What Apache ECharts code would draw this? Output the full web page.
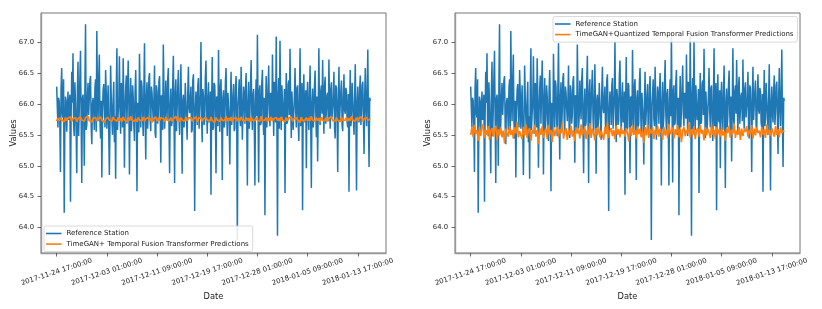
<!DOCTYPE html>
<html>
<head>
<meta charset="utf-8">
<script src="https://cdn.jsdelivr.net/npm/echarts@6/dist/echarts.min.js"></script>
<style>
html,body{margin:0;padding:0;background:#fff;}
#chart{width:822px;height:309px;}
</style>
</head>
<body>
<div id="chart"></div>
<script>
// ---- data ----
const xTickHours = [0, 200, 400, 600, 800, 1000, 1200];
const xTickLabels = ['2017-11-24 17:00:00','2017-12-03 01:00:00','2017-12-11 09:00:00','2017-12-19 17:00:00','2017-12-28 01:00:00','2018-01-05 09:00:00','2018-01-13 17:00:00'];
const yTicks = [64.0, 64.5, 65.0, 65.5, 66.0, 66.5, 67.0];
const refStepHours = 2.5; // hours between reference samples (from 2017-11-24 17:00)
const predStepHours = 5;  // hours between prediction samples

const referenceStation = [
66.28,65.95,65.62,66.10,66.05,65.70,64.90,66.25,66.58,65.85,65.78,66.40,64.24,65.60,66.12,66.05,65.55,65.88,66.20,65.74,
65.71,66.15,64.42,65.78,66.52,66.02,66.82,65.66,65.48,66.35,66.02,65.58,64.88,66.20,66.68,65.48,65.90,66.44,66.86,65.74,
64.72,66.08,66.15,65.90,65.00,66.30,67.29,65.58,65.66,66.12,66.34,65.82,65.80,66.38,66.45,65.64,65.35,66.00,66.10,65.92,
65.58,66.26,66.40,65.55,67.18,66.14,65.72,66.40,66.80,65.72,65.44,66.05,64.81,65.86,66.22,66.32,65.92,65.62,66.55,66.18,
65.60,65.96,66.30,66.28,64.85,65.68,66.62,66.10,65.75,65.50,66.08,66.36,65.38,65.80,64.79,66.22,66.90,65.58,65.85,66.04,
66.77,65.90,65.52,66.34,66.18,65.62,66.74,66.08,64.97,65.84,66.25,66.46,65.68,65.70,66.70,66.12,64.86,65.92,66.42,65.56,
65.78,66.30,66.12,65.66,65.40,66.20,66.55,65.88,64.59,66.02,66.05,65.54,66.81,66.16,65.62,66.38,66.28,65.76,65.48,66.24,
66.98,65.82,65.10,66.10,66.35,65.60,65.88,66.42,66.50,65.74,65.56,66.28,66.18,65.94,65.72,66.06,66.62,65.52,65.45,66.30,
66.20,65.68,65.82,66.36,66.45,65.86,65.05,66.14,66.10,65.58,66.96,66.22,65.60,65.80,66.38,66.00,65.75,66.40,66.58,65.70,
64.88,65.96,66.25,65.64,65.70,66.32,66.78,65.84,64.72,66.18,66.40,65.56,65.92,66.26,66.55,65.78,65.50,66.08,66.64,65.90,
64.87,66.04,66.15,65.62,65.78,66.34,66.32,65.72,65.42,66.20,66.60,65.94,65.85,66.10,66.28,65.54,65.58,66.38,66.48,65.80,
64.27,65.88,66.20,66.02,65.66,66.30,66.42,65.60,65.90,66.16,67.00,65.76,65.38,66.24,66.12,65.66,65.74,66.44,66.70,65.92,
65.52,66.06,66.35,65.70,65.80,66.20,64.53,65.98,66.76,65.58,65.62,66.34,66.30,65.84,64.88,66.12,66.08,65.64,66.87,66.00,
65.55,66.28,66.40,65.78,64.77,66.10,66.22,65.62,65.70,66.36,66.58,65.90,65.48,66.18,66.15,65.74,65.02,66.02,66.52,65.66,
65.88,66.14,66.32,65.56,65.60,66.26,66.45,65.82,63.80,65.96,66.18,66.40,65.76,65.64,66.60,66.08,65.42,65.86,66.28,66.12,
65.68,66.22,66.50,65.74,64.68,66.04,66.36,65.60,65.82,66.30,66.71,65.88,65.58,66.16,66.24,65.70,64.68,66.06,66.40,65.80,
67.12,65.94,64.73,66.20,66.30,65.66,65.70,66.34,66.55,65.78,65.50,66.10,64.20,65.92,66.45,65.62,65.90,66.26,66.62,65.84,
65.64,66.18,66.20,65.76,66.80,66.02,65.48,66.36,66.35,65.70,67.09,65.86,63.87,66.12,66.42,65.60,67.02,66.08,65.58,66.30,
66.28,65.74,65.80,66.24,64.56,65.94,66.50,65.68,65.72,66.32,66.38,65.82,66.89,66.04,65.45,66.20,66.22,65.58,65.86,66.14,
66.58,65.90,65.62,66.26,66.30,65.72,65.40,66.10,66.90,65.64,65.78,66.34,64.28,65.98,66.48,65.76,65.70,66.22,64.96,66.06,
66.36,65.80,65.58,66.18,66.62,65.70,64.64,66.02,66.25,65.62,65.82,66.30,66.54,65.88,65.46,66.12,65.07,65.94,66.90,65.76,
65.66,66.20,66.30,65.84,66.71,66.00,65.52,66.28,66.44,65.68,65.90,66.14,66.18,65.72,66.72,65.96,65.60,66.24,66.35,65.78,
65.78,66.10,66.52,65.62,65.44,66.30,66.26,65.86,64.90,66.04,66.60,65.74,65.72,66.20,66.38,65.66,65.56,66.12,66.48,65.90,
65.84,66.26,66.20,65.70,65.62,66.16,64.58,65.92,66.55,65.64,65.76,66.34,66.32,65.80,65.50,66.08,66.64,65.74,64.60,66.02,
66.28,65.86,65.70,66.22,66.46,65.66,65.88,66.30,66.36,65.78,65.19,66.12,66.58,65.92,65.64,66.18,66.88,65.72,64.98,66.10,
66.05
];

const tftPred = [
65.72,65.77,65.73,65.78,65.74,65.76,65.71,65.78,65.73,65.77,
65.75,65.79,65.72,65.76,65.74,65.78,65.71,65.76,65.73,65.79,
65.74,65.77,65.72,65.78,65.75,65.80,65.73,65.76,65.71,65.77,
65.74,65.78,65.72,65.76,65.73,65.79,65.74,65.77,65.70,65.76,
65.73,65.78,65.74,65.77,65.72,65.79,65.75,65.76,65.72,65.78,
65.73,65.77,65.71,65.79,65.74,65.76,65.72,65.78,65.73,65.80,
65.74,65.77,65.72,65.76,65.71,65.78,65.74,65.77,65.73,65.79,
65.72,65.76,65.74,65.78,65.73,65.77,65.70,65.76,65.74,65.79,
65.72,65.77,65.73,65.78,65.75,65.76,65.71,65.79,65.74,65.77,
65.73,65.78,65.72,65.76,65.74,65.80,65.73,65.77,65.71,65.78,
65.74,65.76,65.72,65.79,65.73,65.77,65.74,65.78,65.72,65.76,
65.73,65.79,65.71,65.77,65.74,65.78,65.72,65.76,65.73,65.78,
65.74,65.77,65.72,65.79,65.73,65.76,65.70,65.78,65.74,65.77,
65.72,65.78,65.73,65.76,65.74,65.80,65.72,65.77,65.73,65.79,
65.71,65.76,65.74,65.78,65.72,65.77,65.73,65.79,65.74,65.76,
65.72,65.78,65.73,65.77,65.71,65.79,65.74,65.76,65.73,65.78,
65.74,65.77,65.72,65.80,65.73,65.76,65.74,65.78,65.71,65.77,
65.73,65.79,65.72,65.76,65.74,65.78,65.73,65.77,65.72,65.79,
65.74,65.76,65.71,65.78,65.73,65.77,65.74,65.79,65.72,65.76,
65.73,65.78,65.74,65.77,65.70,65.79,65.73,65.76,65.74,65.78,
65.72,65.77,65.73,65.80,65.74,65.76,65.72,65.78,65.73,65.77,
65.71,65.79,65.74,65.76,65.73,65.78,65.72,65.77,65.74,65.79,
65.73,65.76,65.72,65.78,65.74,65.77,65.71,65.79,65.73,65.76,
65.74,65.78,65.72,65.77,65.73,65.80,65.74,65.76,65.72,65.78,
65.73,65.77,65.74,65.79,65.72,65.76,65.73,65.78,65.74,65.77,
65.75
];

const quantizedTftPred = [
65.50,65.62,65.46,65.66,65.52,65.58,65.40,65.63,65.48,65.60,
65.68,65.45,65.58,65.50,65.64,65.42,65.56,65.61,65.47,65.57,
65.65,65.41,65.59,65.49,65.62,65.46,65.57,65.36,65.60,65.52,
65.47,65.64,65.50,65.58,65.44,65.62,65.52,65.71,65.46,65.56,
65.59,65.43,65.63,65.49,65.67,65.45,65.57,65.61,65.40,65.58,
65.52,65.66,65.47,65.58,65.35,65.61,65.50,65.64,65.45,65.56,
65.60,65.43,65.66,65.51,65.58,65.38,65.62,65.48,65.57,65.63,
65.46,65.59,65.52,65.70,65.44,65.56,65.61,65.42,65.58,65.50,
65.65,65.47,65.57,65.40,65.62,65.52,65.59,65.44,65.67,65.49,
65.55,65.63,65.43,65.58,65.51,65.69,65.45,65.60,65.53,65.41,
65.61,65.49,65.64,65.46,65.57,65.59,65.42,65.63,65.51,65.71,
65.45,65.56,65.61,65.48,65.58,65.43,65.65,65.50,65.59,65.46,
65.63,65.52,65.57,65.47,65.61,65.53,65.39,65.62,65.48,65.66,
65.50,65.58,65.44,65.64,65.51,65.60,65.46,65.57,65.37,65.63,
65.49,65.67,65.45,65.59,65.52,65.62,65.43,65.58,65.50,65.65,
65.47,65.60,65.54,65.42,65.63,65.49,65.58,65.45,65.68,65.51,
65.56,65.62,65.44,65.59,65.50,65.66,65.46,65.60,65.38,65.57,
65.63,65.48,65.58,65.52,65.70,65.45,65.59,65.50,65.64,65.43,
65.57,65.61,65.47,65.66,65.52,65.58,65.41,65.62,65.49,65.60,
65.54,65.45,65.67,65.50,65.58,65.44,65.63,65.51,65.59,65.47,
65.62,65.49,65.56,65.40,65.61,65.53,65.65,65.46,65.58,65.52,
65.68,65.45,65.57,65.50,65.63,65.42,65.60,65.48,65.59,65.55,
65.64,65.47,65.58,65.51,65.66,65.44,65.60,65.49,65.62,65.53,
65.57,65.46,65.63,65.50,65.59,65.45,65.67,65.52,65.58,65.48,
65.61,65.54,65.47,65.64,65.50,65.59,65.46,65.62,65.53,65.57,
65.55
];

const nameRef = 'Reference Station';
const nameLeft = 'TimeGAN+ Temporal Fusion Transformer Predictions';
const nameRight = 'TimeGAN+Quantized Temporal Fusion Transformer Predictions';

// ---- chart ----
const BLUE = '#1f77b4', ORANGE = '#ff7f0e';
const FONT = 'DejaVu Sans';
const toPairs = (arr, step) => arr.map((v, i) => [i * step, v]);
const lastHour = (referenceStation.length - 1) * refStepHours;
const xMin = -0.05 * lastHour, xMax = lastHour * 1.05;

function xAxisCfg(gridIndex) {
  return {
    type: 'value', gridIndex, min: xMin, max: xMax,
    name: 'Date', nameLocation: 'middle', nameGap: 40, nameMoveOverlap: false,
    nameTextStyle: { fontFamily: FONT, fontSize: 8.3, color: '#222' },
    splitLine: { show: false },
    axisLine: { show: true, onZero: false, lineStyle: { color: '#999', width: 1.4 } },
    axisTick: { show: true, inside: false, length: 3.5, lineStyle: { color: '#444', width: 0.8 }, customValues: xTickHours },
    axisLabel: {
      customValues: xTickHours, rotate: 18, align: 'center', verticalAlign: 'middle', margin: 19,
      fontFamily: FONT, fontSize: 7, color: '#222',
      formatter: v => xTickLabels[xTickHours.indexOf(Math.round(v))] || ''
    }
  };
}
function yAxisCfg(gridIndex) {
  return {
    type: 'value', gridIndex, min: 63.59, max: 67.47,
    name: 'Values', nameLocation: 'middle', nameGap: 23, nameMoveOverlap: false,
    nameTextStyle: { fontFamily: FONT, fontSize: 8.3, color: '#222' },
    splitLine: { show: false },
    axisLine: { show: true, onZero: false, lineStyle: { color: '#999', width: 1.4 } },
    axisTick: { show: true, inside: false, length: 3.5, lineStyle: { color: '#444', width: 0.8 }, customValues: yTicks },
    axisLabel: {
      customValues: yTicks, margin: 7, fontFamily: FONT, fontSize: 6.8, color: '#222',
      formatter: v => v.toFixed(1)
    }
  };
}
function lineSeries(name, color, data, idx, z, width) {
  return {
    type: 'line', name, xAxisIndex: idx, yAxisIndex: idx, data,
    showSymbol: false, symbol: 'none', z,
    lineStyle: { color, width }, itemStyle: { color },
    emphasis: { disabled: true }
  };
}
function legendCfg(names, left, top) {
  return {
    data: names, orient: 'vertical', left, top,
    icon: 'rect', itemWidth: 15.5, itemHeight: 1.6, itemGap: 2.6,
    padding: [3.5, 4, 3.5, 2], backgroundColor: 'rgba(255,255,255,0.85)',
    borderColor: '#d0d0d0', borderWidth: 0.8, borderRadius: 2,
    textStyle: { fontFamily: FONT, fontSize: 7, color: '#222', lineHeight: 8 },
    selectedMode: false
  };
}

const chart = echarts.init(document.getElementById('chart'), null, { renderer: 'canvas' });
chart.setOption({
  animation: false,
  backgroundColor: '#fff',
  grid: [
    { left: 41, top: 13, width: 345, height: 240, show: true, borderColor: '#666', borderWidth: 0.9, backgroundColor: '#fff' },
    { left: 455, top: 13, width: 345, height: 240, show: true, borderColor: '#666', borderWidth: 0.9, backgroundColor: '#fff' }
  ],
  xAxis: [xAxisCfg(0), xAxisCfg(1)],
  yAxis: [yAxisCfg(0), yAxisCfg(1)],
  legend: [
    legendCfg([nameRef, nameLeft], 44, 226),
    legendCfg([nameRef, nameRight], 553, 16.5)
  ],
  series: [
    lineSeries(nameRef, BLUE, toPairs(referenceStation, refStepHours), 0, 2, 1.5),
    lineSeries(nameLeft, ORANGE, toPairs(tftPred, predStepHours), 0, 3, 1.8),
    lineSeries(nameRef, BLUE, toPairs(referenceStation, refStepHours), 1, 2, 1.5),
    lineSeries(nameRight, ORANGE, toPairs(quantizedTftPred, predStepHours), 1, 3, 1.6)
  ]
});
</script>
</body>
</html>
